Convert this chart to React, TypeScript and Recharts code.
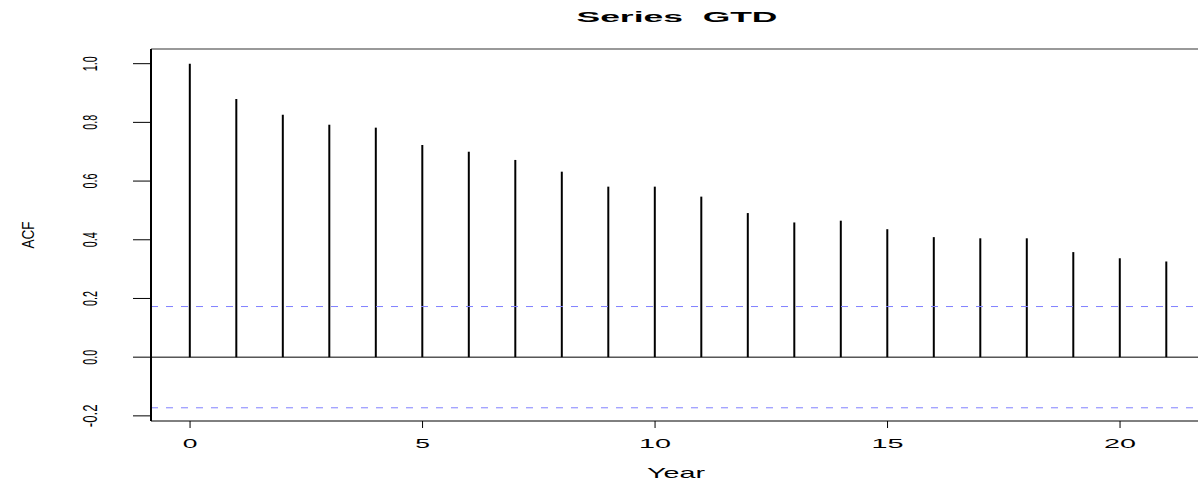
import React from 'react'
import {
  ComposedChart,
  Bar,
  XAxis,
  YAxis,
  ReferenceLine
} from 'recharts';

// autocorrelation of GTD by lag
const lags = [0, 1, 2, 3, 4, 5, 6, 7, 8, 9, 10, 11, 12, 13, 14, 15, 16, 17, 18, 19, 20, 21];
const acfValues = [
  1.0, 0.88, 0.826, 0.792, 0.782, 0.723, 0.7, 0.672, 0.632, 0.581, 0.581,
  0.547, 0.491, 0.459, 0.465, 0.436, 0.409, 0.405, 0.405, 0.358, 0.337, 0.326
];
const xTicks = [0, 5, 10, 15, 20];
const yTicks = [-0.2, 0.0, 0.2, 0.4, 0.6, 0.8, 1.0];
const ciBound = 0.1725;

const xDomain = [-0.84, 21.84];
const yDomain = [-0.2175, 1.05];

const font = '"Liberation Sans", Arial, Helvetica, sans-serif';

const data = lags.map((lag, i) => ({ lag, acf: acfValues[i] }));

const XTick = (props: any) => {
  const { x, payload } = props;
  const label = String(payload.value);
  return (
    <text
      x={x}
      y={448.3}
      textAnchor="middle"
      fontFamily={font}
      fontSize={13}
      fill="#000"
      textLength={label.length === 1 ? 14.7 : 32}
      lengthAdjust="spacingAndGlyphs"
    >
      {label}
    </text>
  );
};

const YTick = (props: any) => {
  const { y, payload } = props;
  const label = payload.value.toFixed(1);
  return (
    <g transform={`translate(96.7, ${y}) scale(1.4, 1)`}>
      <text
        transform="rotate(-90)"
        x={0}
        y={0}
        textAnchor="middle"
        fontFamily={font}
        fontSize={14}
        fill="#000"
        textLength={label.length > 3 ? 22.7 : 15}
        lengthAdjust="spacingAndGlyphs"
      >
        {label}
      </text>
    </g>
  );
};

export default function App() {
  return (
    <div style={{ position: 'fixed', left: 0, top: 0, width: 1198, height: 485, overflow: 'hidden', background: '#fff' }}>
      <ComposedChart
        width={1210}
        height={485}
        data={data}
        margin={{ top: 49, right: 4.4, bottom: 0, left: 0 }}
      >
        <XAxis
          dataKey="lag"
          type="number"
          domain={xDomain}
          ticks={xTicks}
          allowDataOverflow
          height={64}
          tickSize={7}
          tickMargin={0}
          axisLine={{ stroke: '#000', strokeWidth: 1 }}
          tickLine={{ stroke: '#000', strokeWidth: 1 }}
          tick={<XTick />}
        />
        <YAxis
          type="number"
          domain={yDomain}
          ticks={yTicks}
          allowDataOverflow
          width={151}
          tickSize={18}
          tickMargin={0}
          axisLine={{ stroke: '#000', strokeWidth: 2 }}
          tickLine={{ stroke: '#000', strokeWidth: 1 }}
          tick={<YTick />}
        />
        <ReferenceLine y={yDomain[1]} stroke="#999" strokeWidth={2} />
        <ReferenceLine y={0} stroke="#000" strokeWidth={1} />
        <ReferenceLine y={ciBound} stroke="#8080ff" strokeWidth={1} strokeDasharray="7 8" />
        <ReferenceLine y={-ciBound} stroke="#8080ff" strokeWidth={1} strokeDasharray="7 8" />
        <Bar dataKey="acf" fill="#000" barSize={2} isAnimationActive={false} />
      </ComposedChart>
      <svg
        width={1198}
        height={485}
        style={{ position: 'absolute', left: 0, top: 0, pointerEvents: 'none' }}
      >
        <text
          x={677}
          y={21.7}
          textAnchor="middle"
          fontFamily={font}
          fontWeight="bold"
          fontSize={14}
          fill="#000"
          textLength={201}
          lengthAdjust="spacingAndGlyphs"
        >
          {'Series\u00a0\u00a0GTD'}
        </text>
        <text
          x={676}
          y={478}
          textAnchor="middle"
          fontFamily={font}
          fontSize={15}
          fill="#000"
          textLength={58}
          lengthAdjust="spacingAndGlyphs"
        >
          Year
        </text>
        <g transform="translate(33.5, 235) scale(1.2, 1)">
          <text
            transform="rotate(-90)"
            textAnchor="middle"
            fontFamily={font}
            fontSize={14}
            fill="#000"
            textLength={27}
            lengthAdjust="spacingAndGlyphs"
          >
            ACF
          </text>
        </g>
      </svg>
    </div>
  )
}
